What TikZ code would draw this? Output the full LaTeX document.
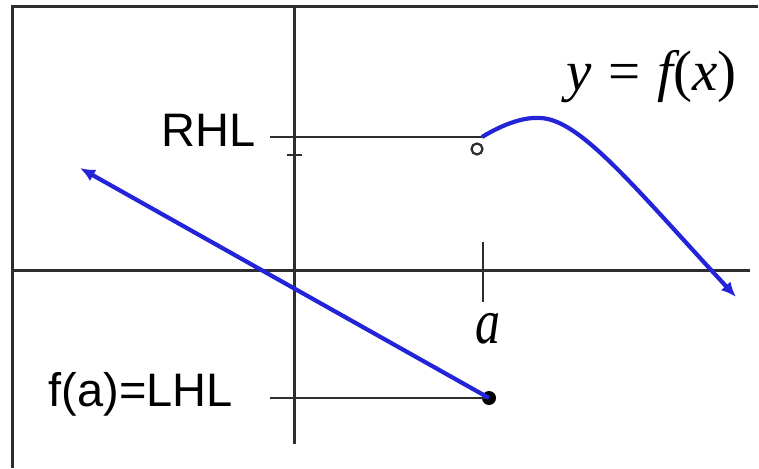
\documentclass[tikz,border=0pt]{standalone}
\usepackage{fontspec}
\setmainfont{Liberation Sans}
\newfontfamily\tms{Liberation Serif}
\usetikzlibrary{arrows.meta}
\definecolor{fnblue}{RGB}{35,35,215}
\definecolor{axgray}{RGB}{45,45,45}

\begin{document}
\begin{tikzpicture}[x=1pt, y=1pt,
        >={Latex[length=15pt, width=13pt]},
        axis/.style={draw=axgray, line width=3pt},
        guide/.style={draw=axgray, line width=2.5pt},
        fn/.style={draw=fnblue, line width=4.2pt},
        lbl/.style={font=\fontsize{47}{50}\selectfont, inner sep=0pt},
        opendot/.style={circle, draw=axgray, line width=2.2pt, fill=white, minimum size=11pt, inner sep=0pt},
        filldot/.style={circle, fill=black, minimum size=14pt, inner sep=0pt}
    ]
        \useasboundingbox (0,0) rectangle (759,468);

        % frame (left and top only)
        \draw[axis] (12,0) |- (758,461);

        % axes
        \coordinate (ytop) at (294,461);
        \coordinate (ybot) at (294,24);
        \coordinate (xleft) at (12,197);
        \coordinate (xright) at (750,197);
        \draw[axis] (ytop) -- (ybot);
        \draw[axis] (xleft) -- (xright);

        % tick at a
        \coordinate (atop) at (483,226);
        \coordinate (abot) at (483,166);
        \draw[guide] (atop) -- (abot);
        \node[inner sep=0pt] (alabel) at (488,139) {\scalebox{0.78}[1]{\fontsize{64}{66}\selectfont\tms\itshape a}};

        % small tick on y axis
        \coordinate (ytickl) at (287,313);
        \coordinate (ytickr) at (302,313);
        \draw[guide] (ytickl) -- (ytickr);

        % RHL
        \node[lbl, anchor=base east] (rhl) at (256,321) {RHL};
        \coordinate (rhlleft) at (270,331);
        \coordinate (rhlstart) at (482,331);
        \draw[guide] (rhlleft) -- (rhlstart);
        \node[opendot] (hole) at (477,319) {};

        % LHL
        \node[lbl, anchor=base east] (lhl) at (233,62) {f(a)=LHL};
        \coordinate (lhlleft) at (270,70);
        \node[filldot] (fa) at (489,70) {};
        \draw[guide] (lhlleft) -- (fa.center);

        % left branch
        \coordinate (tipleft) at (80,300);
        \draw[fn, <-] (tipleft) -- (fa.center);

        % right branch
        \coordinate (tipright) at (736,171);
        \draw[fn, ->] (rhlstart) .. controls (505,345) and (525,351) .. (540,350)
            .. controls (580,349) and (635,280) .. (tipright);

        \node[anchor=base west, inner sep=0pt] (fx) at (566,377)
            {\fontsize{57}{60}\selectfont\tms\itshape y\hspace{0.3em}\upshape=\hspace{0.3em}\itshape f\upshape(\itshape x\upshape)};
    \end{tikzpicture}
\end{document}
